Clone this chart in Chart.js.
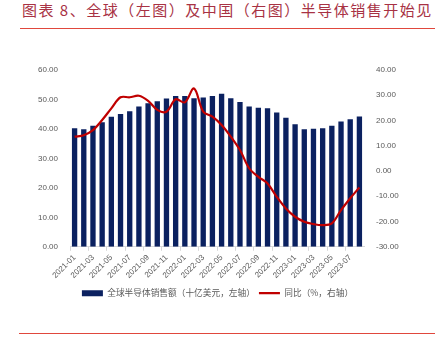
<!DOCTYPE html>
<html>
<head>
<meta charset="utf-8">
<script src="https://cdn.jsdelivr.net/npm/chart.js@4.4.0/dist/chart.umd.min.js"></script>
<style>
  html, body { margin: 0; padding: 0; background: #fff; }
  #wrap { position: relative; width: 435px; height: 350px; overflow: hidden; }
  #title {
    position: absolute; left: 22px; top: 0px;
    font-family: "Noto Sans CJK SC", sans-serif; font-size: 15px;
    letter-spacing: 1.5px; color: #a83244; white-space: nowrap; line-height: 20px;
  }
  .rule { position: absolute; right: 0; height: 1px; background: #e0473d; z-index: 2; }
  #chart { position: absolute; left: 0; top: 0; z-index: 1; }
</style>
</head>
<body>
<div id="wrap">
  <div id="title">图表 8、全球（左图）及中国（右图）半导体销售开始见</div>
  <div class="rule" style="left:20px; top:28px;"></div>
  <canvas id="chart" width="435" height="350"></canvas>
  <div class="rule" style="left:19px; top:333px;"></div>
</div>
<script>
// monthly categories, 2021-01 .. 2023-08
const months = [
  "2021-01", "2021-02", "2021-03", "2021-04", "2021-05", "2021-06",
  "2021-07", "2021-08", "2021-09", "2021-10", "2021-11", "2021-12",
  "2022-01", "2022-02", "2022-03", "2022-04", "2022-05", "2022-06",
  "2022-07", "2022-08", "2022-09", "2022-10", "2022-11", "2022-12",
  "2023-01", "2023-02", "2023-03", "2023-04", "2023-05", "2023-06",
  "2023-07", "2023-08"
];

// global semiconductor sales, billion USD (left axis)
const sales = [
  40.2, 39.9, 41.1, 42.3, 44.1, 45.1, 46.0, 47.6, 48.7, 49.4, 50.3, 51.2,
  51.2, 50.4, 50.7, 51.2, 51.9, 50.4, 49.1, 47.6, 47.2, 47.0, 45.6, 43.8,
  41.6, 39.9, 40.1, 40.2, 41.1, 42.5, 43.3, 44.2
];

// year-on-year change, % (right axis)
const yoy = [
  13.6, 14.2, 16.2, 20.2, 24.8, 29.2, 29.2, 29.8, 27.8, 24.2, 23.5, 28.4,
  27.2, 32.7, 23.5, 21.5, 18.2, 13.6, 8.3, 1.1, -2.3, -4.9, -10.2, -14.8,
  -18.1, -20.1, -21.0, -21.4, -20.7, -15.5, -10.8, -6.5
];

const salesLabel = "全球半导体销售额（十亿美元，左轴）";
const yoyLabel = "同比（%，右轴）";

const tickFont = { family: "'Liberation Sans', Arial, sans-serif", size: 8 };
const tickColor = "#595959";

new Chart(document.getElementById("chart"), {
  type: "bar",
  data: {
    labels: months,
    datasets: [
      {
        type: "line",
        label: yoyLabel,
        data: yoy,
        yAxisID: "yRight",
        borderColor: "#c00000",
        backgroundColor: "#c00000",
        borderWidth: 2.2,
        pointRadius: 0,
        tension: 0.35,
        pointStyle: "line",
        order: 0,
      },
      {
        label: salesLabel,
        data: sales,
        yAxisID: "yLeft",
        backgroundColor: "#0b2160",
        borderWidth: 0,
        categoryPercentage: 1,
        barPercentage: 0.58,
        pointStyle: "rect",
        order: 1,
      },
    ],
  },
  options: {
    responsive: false,
    animation: false,
    devicePixelRatio: 1,
    layout: { padding: { top: 70, left: 0, right: 0, bottom: 42.5 } },
    plugins: {
      tooltip: { enabled: false },
      legend: {
        position: "bottom",
        reverse: true,
        labels: {
          usePointStyle: true,
          pointStyleWidth: 21,
          boxHeight: 6,
          padding: 4,
          color: "#595959",
          font: { family: "'Noto Sans CJK SC', sans-serif", size: 8.7 },
        },
      },
    },
    scales: {
      x: {
        ticks: {
          autoSkip: false,
          maxRotation: 45,
          minRotation: 45,
          padding: 2,
          font: tickFont,
          color: tickColor,
          callback: (v, i) => (i % 2 === 0 ? months[i] : ""),
        },
        grid: {
          drawOnChartArea: false,
          drawTicks: true,
          tickLength: 4,
          color: (ctx) => (ctx.index % 2 === 0 ? "#d9d9d9" : "rgba(0,0,0,0)"),
        },
        border: { color: "#d9d9d9" },
        afterFit: (s) => { s.height = 38; },
      },
      yLeft: {
        position: "left",
        min: 0,
        max: 60,
        ticks: {
          stepSize: 10,
          padding: 4,
          font: tickFont,
          color: tickColor,
          callback: (v) => v.toFixed(2),
        },
        grid: { display: false },
        border: { display: false },
        afterFit: (s) => { s.width = 70; },
      },
      yRight: {
        position: "right",
        min: -30,
        max: 40,
        ticks: {
          stepSize: 10,
          padding: 4,
          font: tickFont,
          color: tickColor,
          callback: (v) => v.toFixed(2),
        },
        grid: { display: false },
        border: { display: false },
        afterFit: (s) => { s.width = 71; },
      },
    },
  },
});
</script>
</body>
</html>
